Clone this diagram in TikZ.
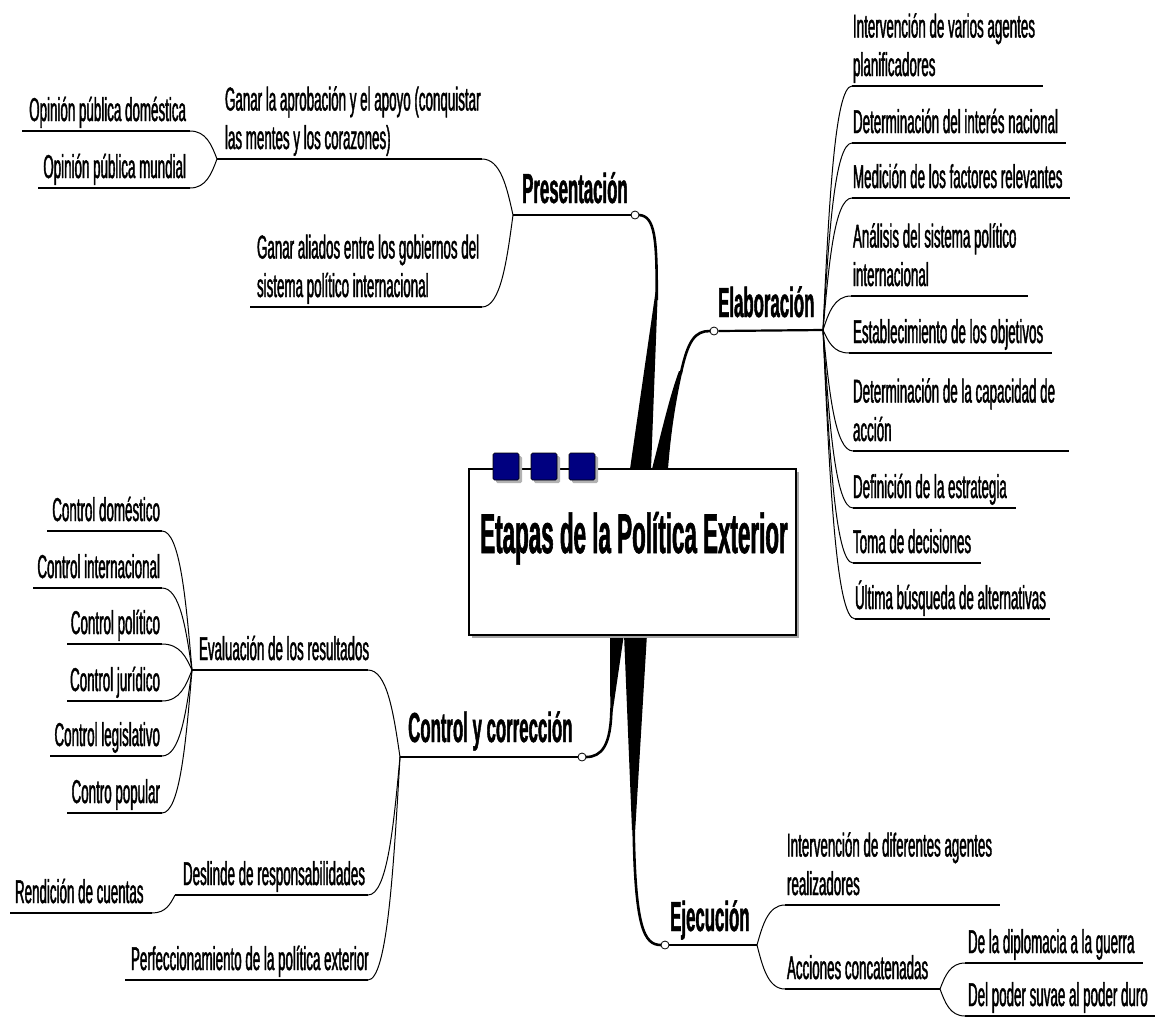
\documentclass[tikz,border=0pt]{standalone}
\usepackage{fontspec}
\newfontfamily\mapfont[FakeStretch=0.405, FakeBold=1.2]{Liberation Sans}
\newfontfamily\mapbold[FakeStretch=0.40, FakeBold=1.0]{Liberation Sans Bold}
\usetikzlibrary{calc}
\definecolor{sqblue}{RGB}{0,0,128}
\begin{document}
\begin{tikzpicture}[x=1pt,y=-1pt,
  txt/.style={font=\mapfont\fontsize{33}{38.5}\selectfont, inner sep=0pt, outer sep=0pt},
  head/.style={font=\mapbold\fontsize{42}{48}\selectfont, inner sep=0pt},
  ttl/.style={font=\mapbold\fontsize{56}{60}\selectfont, inner sep=0pt},
  uline/.style={line width=2pt},
  hline/.style={line width=2.2pt},
  conn/.style={line width=1pt, to path={let \p1=(\tikztostart), \p2=(\tikztotarget) in
     .. controls ({\x1+0.2*(\x2-\x1)},{\y1+0.5*(\y2-\y1)}) and ({\x1+0.4*(\x2-\x1)},\y2) .. (\tikztotarget)}},
  knob/.style={circle, draw, fill=white, line width=0.8pt, inner sep=0pt, minimum size=8pt},
  stem/.style={line width=2.6pt},
  sq/.style={fill=sqblue, draw=black, line width=0.6pt, rounded corners=1.5pt},
  sqsh/.style={fill=black!30, rounded corners=1.5pt},
]
\useasboundingbox (0,0) rectangle (1158,1018);

% ---------- main thick branches ----------
% Presentacion
\fill (630,469) -- (655.5,292) -- (657.8,292) -- (651,469) -- cycle;
\draw[stem] (656.7,300) .. controls (657,238) and (655,216) .. (639,215);
% Elaboracion
\fill (652,469) .. controls (662,430) and (670,395) .. (679,371) -- (682.5,371) .. controls (676,400) and (671,430) .. (668,469) -- cycle;
\draw[stem] (680.7,374) .. controls (688,340) and (695,331) .. (710,331);
% Control y correccion
\fill (610,634) -- (610.3,712) -- (612.6,712) -- (624,634) -- cycle;
\draw[stem] (611.4,708) .. controls (611,745) and (602,757) .. (586,757);
% Ejecucion
\fill (624,634) -- (632,830) -- (635.2,830) -- (647,634) -- cycle;
\draw[stem] (633.6,825) .. controls (635,928) and (644,945) .. (661,945);

% ---------- central box ----------
\fill[black!35] (471.5,471.5) rectangle (798.5,637.5);
\node[draw, line width=1.2pt, fill=white, minimum width=327pt, minimum height=166pt, inner sep=0pt] (root) at (632.5,552) {};
\fill[sqsh] (496,456) rectangle (522,483);
\fill[sqsh] (534,456) rectangle (560,483);
\fill[sqsh] (572,456) rectangle (598,483);
\filldraw[sq] (493,453) rectangle (519,480);
\filldraw[sq] (531,453) rectangle (557,480);
\filldraw[sq] (569,453) rectangle (595,480);
\node[ttl, anchor=base] (title) at (634,553) {Etapas de la Política Exterior};

% ---------- Presentacion ----------
\coordinate (P) at (513,215);
\node[knob] (Pk) at (635,215) {};
\node[head, anchor=base west] (Pl) at (522,203) {Presentación};
\draw[hline] (P) -- (Pk.west);

\coordinate (p1s) at (217,159); \coordinate (p1e) at (482,159);
\draw[uline] (p1s) -- (p1e);
\node[txt, anchor=base west] (p1) at (225,149) {\begin{tabular}[b]{@{}l@{}}Ganar la aprobación y el apoyo (conquistar\\las mentes y los corazones)\end{tabular}};
\draw[conn] (P) to (p1e);

\coordinate (p2s) at (250,307); \coordinate (p2e) at (482,307);
\draw[uline] (p2s) -- (p2e);
\node[txt, anchor=base west] (p2) at (257,297) {\begin{tabular}[b]{@{}l@{}}Ganar aliados entre los gobiernos del\\sistema político internacional\end{tabular}};
\draw[conn] (P) to (p2e);

\coordinate (p11s) at (22,131); \coordinate (p11e) at (190,131);
\draw[uline] (p11s) -- (p11e);
\node[txt, anchor=base east] (p11) at (186,121) {Opinión pública doméstica};
\draw[conn] (p1s) to (p11e);

\coordinate (p12s) at (38,188); \coordinate (p12e) at (190,188);
\draw[uline] (p12s) -- (p12e);
\node[txt, anchor=base east] (p12) at (186,178) {Opinión pública mundial};
\draw[conn] (p1s) to (p12e);

% ---------- Elaboracion ----------
\coordinate (E) at (823,330);
\node[knob] (Ek) at (714,331) {};
\node[head, anchor=base west] (El) at (718,317) {Elaboración};
\draw[hline] (Ek.east) -- (E);

\coordinate (e1) at (852,86);  \draw[uline] (e1) -- (1043,86);
\node[txt, anchor=base west] (e1t) at (853,76) {\begin{tabular}[b]{@{}l@{}}Intervención de varios agentes\\planificadores\end{tabular}};
\coordinate (e2) at (852,143); \draw[uline] (e2) -- (1066,143);
\node[txt, anchor=base west] (e2t) at (853,133) {Determinación del interés nacional};
\coordinate (e3) at (852,198); \draw[uline] (e3) -- (1070,198);
\node[txt, anchor=base west] (e3t) at (853,188) {Medición de los factores relevantes};
\coordinate (e4) at (851,296); \draw[uline] (e4) -- (1028,296);
\node[txt, anchor=base west] (e4t) at (853,286) {\begin{tabular}[b]{@{}l@{}}Análisis del sistema político\\internacional\end{tabular}};
\coordinate (e5) at (849,353); \draw[uline] (e5) -- (1052,353);
\node[txt, anchor=base west] (e5t) at (853,343) {Establecimiento de los objetivos};
\coordinate (e6) at (853,451); \draw[uline] (e6) -- (1069,451);
\node[txt, anchor=base west] (e6t) at (853,441) {\begin{tabular}[b]{@{}l@{}}Determinación de la capacidad de\\acción\end{tabular}};
\coordinate (e7) at (853,508); \draw[uline] (e7) -- (1016,508);
\node[txt, anchor=base west] (e7t) at (853,498) {Definición de la estrategia};
\coordinate (e8) at (853,563); \draw[uline] (e8) -- (981,563);
\node[txt, anchor=base west] (e8t) at (853,553) {Toma de decisiones};
\coordinate (e9) at (855,619); \draw[uline] (e9) -- (1050,619);
\node[txt, anchor=base west] (e9t) at (855,609) {Última búsqueda de alternativas};
\foreach \k in {e1,e2,e3,e4,e5,e6,e7,e8,e9} \draw[conn] (E) to (\k);

% ---------- Control y correccion ----------
\coordinate (C) at (400,757);
\node[knob] (Ck) at (582,757) {};
\node[head, anchor=base west] (Cl) at (408,742) {Control y corrección};
\draw[hline] (C) -- (Ck.west);

\coordinate (c1s) at (192,670); \coordinate (c1e) at (368,670);
\draw[uline] (c1s) -- (c1e);
\node[txt, anchor=base west] (c1) at (199,660) {Evaluación de los resultados};
\draw[conn] (C) to (c1e);

\coordinate (c2s) at (175,895); \coordinate (c2e) at (368,895);
\draw[uline] (c2s) -- (c2e);
\node[txt, anchor=base west] (c2) at (183,885) {Deslinde de responsabilidades};
\draw[conn] (C) to (c2e);

\coordinate (c3s) at (125,980); \coordinate (c3e) at (368,980);
\draw[uline] (c3s) -- (c3e);
\node[txt, anchor=base west] (c3) at (131,970) {Perfeccionamiento de la política exterior};
\draw[conn] (C) to (c3e);

\coordinate (c21s) at (10,913); \coordinate (c21e) at (152,913);
\draw[uline] (c21s) -- (c21e);
\node[txt, anchor=base west] (c21) at (15,903) {Rendición de cuentas};
\draw[conn] (c2s) to (c21e);

\coordinate (k1) at (162,531); \draw[uline] (47,531) -- (k1);
\node[txt, anchor=base east] (k1t) at (160,521) {Control doméstico};
\coordinate (k2) at (162,588); \draw[uline] (33,588) -- (k2);
\node[txt, anchor=base east] (k2t) at (160,578) {Control internacional};
\coordinate (k3) at (162,644); \draw[uline] (67,644) -- (k3);
\node[txt, anchor=base east] (k3t) at (160,634) {Control político};
\coordinate (k4) at (162,701); \draw[uline] (67,701) -- (k4);
\node[txt, anchor=base east] (k4t) at (160,691) {Control jurídico};
\coordinate (k5) at (162,756); \draw[uline] (50,756) -- (k5);
\node[txt, anchor=base east] (k5t) at (160,746) {Control legislativo};
\coordinate (k6) at (162,813); \draw[uline] (67,813) -- (k6);
\node[txt, anchor=base east] (k6t) at (160,803) {Contro popular};
\foreach \k in {k1,k2,k3,k4,k5,k6} \draw[conn] (c1s) to (\k);

% ---------- Ejecucion ----------
\coordinate (J) at (757,945);
\node[knob] (Jk) at (665,945) {};
\node[head, anchor=base west] (Jl) at (670,931) {Ejecución};
\draw[hline] (Jk.east) -- (J);

\coordinate (j1) at (785,905); \draw[uline] (j1) -- (1000,905);
\node[txt, anchor=base west] (j1t) at (787,895) {\begin{tabular}[b]{@{}l@{}}Intervención de diferentes agentes\\realizadores\end{tabular}};
\coordinate (j2) at (785,989); \coordinate (j2e) at (940,989);
\draw[uline] (j2) -- (j2e);
\node[txt, anchor=base west] (j2t) at (787,979) {Acciones concatenadas};
\draw[conn] (J) to (j1);
\draw[conn] (J) to (j2);

\coordinate (j21) at (965,963); \draw[uline] (j21) -- (1143,963);
\node[txt, anchor=base west] (j21t) at (968,953) {De la diplomacia a la guerra};
\coordinate (j22) at (965,1016); \draw[uline] (j22) -- (1155,1016);
\node[txt, anchor=base west] (j22t) at (968,1006) {Del poder suvae al poder duro};
\draw[conn] (j2e) to (j21);
\draw[conn] (j2e) to (j22);
\end{tikzpicture}
\end{document}
